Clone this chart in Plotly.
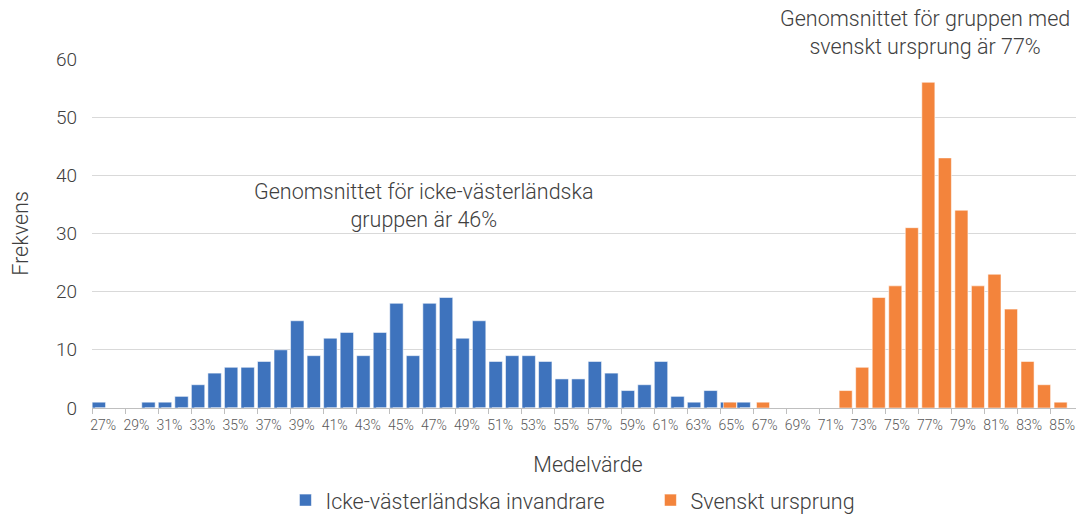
import plotly.graph_objects as go

# Categories: mean values 27% .. 86%
categories = list(range(27, 87))

blue_values = [1, 0, 0, 1, 1, 2, 4, 6, 7, 7, 8, 10, 15, 9, 12, 13, 9, 13, 18, 9,
               18, 19, 12, 15, 8, 9, 9, 8, 5, 5, 8, 6, 3, 4, 8, 2, 1, 3, 1, 1,
               0, 0, 0, 0, 0, 0, 0, 0, 0, 0, 0, 0, 0, 0, 0, 0, 0, 0, 0, 0]

orange_values = [0, 0, 0, 0, 0, 0, 0, 0, 0, 0, 0, 0, 0, 0, 0, 0, 0, 0, 0, 0,
                 0, 0, 0, 0, 0, 0, 0, 0, 0, 0, 0, 0, 0, 0, 0, 0, 0, 0, 1, 0,
                 1, 0, 0, 0, 0, 3, 7, 19, 21, 31, 56, 43, 34, 21, 23, 17, 8, 4, 1, 0]

tick_values = categories[::2]
tick_labels = [f"{v}%" for v in tick_values]

series_names = ["Icke-västerländska invandrare", "Svenskt ursprung"]
blue = "#3E73BD"
orange = "#F3843C"
text_dark = "#404040"
text_mid = "#595959"
font_family = "Roboto"
big = 21.5

fig = go.Figure()
fig.add_trace(go.Bar(
    x=categories, y=blue_values, name=series_names[0],
    marker=dict(color=blue, line=dict(color="rgba(255,255,255,0.55)", width=1)),
    width=0.81, offset=-0.49,
))
fig.add_trace(go.Bar(
    x=categories, y=orange_values, name=series_names[1],
    marker=dict(color=orange, line=dict(color="rgba(255,255,255,0.55)", width=1)),
    width=0.79, offset=-0.31,
))

fig.update_layout(
    width=1076, height=508,
    margin=dict(l=84, r=0, t=51, b=108, autoexpand=False),
    plot_bgcolor="white", paper_bgcolor="white",
    barmode="overlay",
    font=dict(family=font_family, color=text_dark, size=big, weight=300),
    showlegend=True,
    legend=dict(
        orientation="h", x=0.195, xanchor="left", y=-0.264, yanchor="middle",
        font=dict(size=big, color=text_dark, family=font_family, weight=300),
        entrywidth=320, traceorder="normal",
    ),
    annotations=[
        dict(x=46.6, y=34.8, xref="x", yref="y",
             text="Genomsnittet för icke-västerländska<br>gruppen är 46%",
             showarrow=False, align="center", yanchor="middle", borderpad=0,
             font=dict(size=big, color=text_dark, family=font_family, weight=300)),
        dict(x=76.9, y=1.076, xref="x", yref="paper",
             text="Genomsnittet för gruppen med<br>svenskt ursprung är 77%",
             showarrow=False, align="center", yanchor="middle", borderpad=0,
             font=dict(size=big, color=text_dark, family=font_family, weight=300)),
    ],
)

fig.update_xaxes(
    range=[26.5, 86.5],
    tickmode="array", tickvals=tick_values, ticktext=tick_labels,
    ticks="", ticklabelshift=3, ticklabelstandoff=4,
    tickfont=dict(size=14, color=text_mid, family=font_family, weight=300),
    showline=True, linecolor="#BFBFBF", linewidth=1,
    showgrid=False, zeroline=False,
    minor=dict(tickmode="array", tickvals=[v - 0.5 for v in tick_values] + [categories[-1] + 0.5],
               ticks="outside", ticklen=5, tickcolor="#BFBFBF", tickwidth=1, showgrid=False),
    title=dict(text="Medelvärde", standoff=25,
               font=dict(size=big, color=text_dark, family=font_family, weight=300)),
)

fig.update_yaxes(
    range=[0, 60], dtick=10, tick0=0,
    showgrid=True, gridcolor="#D9D9D9", gridwidth=1,
    zeroline=False, showline=False, ticks="",
    ticklabelstandoff=14,
    tickfont=dict(size=19, color=text_dark, family=font_family, weight=300),
    title=dict(text="Frekvens", standoff=25,
               font=dict(size=big, color=text_dark, family=font_family, weight=300)),
)

fig.write_html("out.html")
